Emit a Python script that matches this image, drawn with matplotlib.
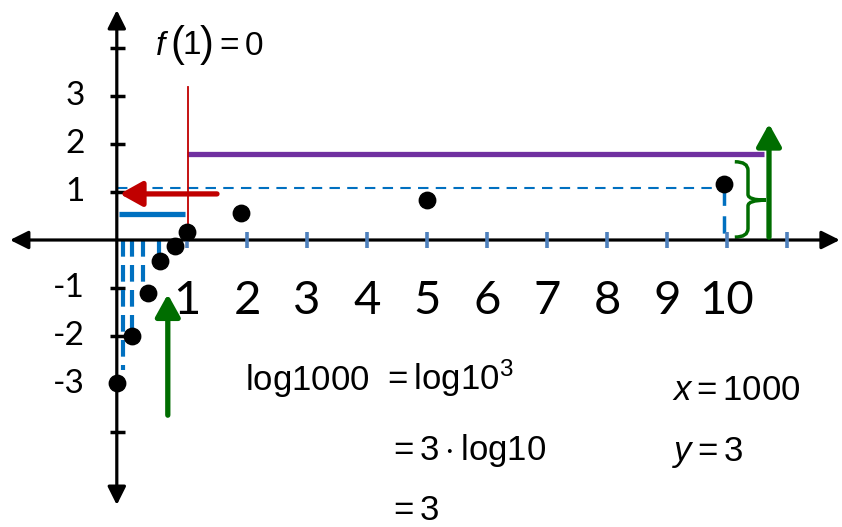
import matplotlib
matplotlib.use("Agg")
import matplotlib.pyplot as plt
from matplotlib.path import Path
from matplotlib.patches import PathPatch

plt.rcParams['mathtext.fontset'] = 'custom'
plt.rcParams['mathtext.rm'] = 'Liberation Sans'
plt.rcParams['mathtext.it'] = 'Liberation Sans:italic'

# points of the (schematic) log curve, in axis units
pts_x = [-0.17, 0.08, 0.35, 0.55, 0.80, 1.00, 1.90, 5.00, 9.95]
pts_y = [-2.98, -2.00, -1.10, -0.44, -0.13, 0.17, 0.56, 0.83, 1.17]

# dashed guides dropped to the x axis near the origin
guide_x = [-0.07, 0.08, 0.27, 0.53]
guide_bottom = [-2.70, -2.15, -0.98, -0.46]

x_ticks = list(range(1, 12))
x_labels = [str(i) for i in range(1, 11)]
y_ticks = [4, 3, 2, 1, -1, -2, -3, -4]
y_labels = ['3', '2', '1', '-1', '-2', '-3']
y_label_vals = [3, 2, 1, -1, -2, -3]

YAXIS_X = -0.17
BLUE = '#0070c0'
TICKBLUE = '#4f81bd'
PURPLE = '#7030a0'
RED = '#c00000'
GREEN = '#006d00'

fig = plt.figure(figsize=(8.42, 5.27), dpi=100)
ax = fig.add_axes([0, 0, 1, 1])
ax.set_xlim(-127 / 60, (842 - 127) / 60)
ax.set_ylim((240 - 527) / 48, 240 / 48)
ax.axis('off')

# axes with arrow heads
ax.annotate('', xy=(11.88, 0), xytext=(-1.95, 0),
            arrowprops=dict(arrowstyle='<|-|>,head_length=0.5,head_width=0.25',
                            lw=2.3, color='black', mutation_scale=22, shrinkA=0, shrinkB=0))
ax.annotate('', xy=(YAXIS_X, 4.79), xytext=(YAXIS_X, -5.52),
            arrowprops=dict(arrowstyle='<|-|>,head_length=0.5,head_width=0.25',
                            lw=2.3, color='black', mutation_scale=22, shrinkA=0, shrinkB=0))

for t in y_ticks:
    ax.plot([YAXIS_X - 0.12, YAXIS_X + 0.13], [t, t], color='black', lw=2.5, solid_capstyle='butt')
for t in x_ticks:
    ax.plot([t, t], [-0.17, 0.17], color=TICKBLUE, lw=2.6, solid_capstyle='butt', zorder=3)

for i, lab in enumerate(x_labels):
    ax.text(x_ticks[i], -1.28, lab, ha='center', va='center', fontsize=34, family='Lato')
for lab, v in zip(y_labels, y_label_vals):
    ax.text(-0.7, v, lab, ha='right', va='center', fontsize=24, family='Lato')

# dashed guides
for gx, gb in zip(guide_x, guide_bottom):
    ax.plot([gx, gx], [0, gb], color=BLUE, lw=3, dashes=(4, 2))
ax.plot([YAXIS_X, pts_x[-1]], [1.08, 1.08], color=BLUE, lw=1.5, dashes=(5, 3.5))
ax.plot([pts_x[-1], pts_x[-1]], [1.08, 0], color=BLUE, lw=2.5, dashes=(5, 3))

# coloured segments
ax.plot([-0.13, 0.97], [0.54, 0.54], color=BLUE, lw=3.8, solid_capstyle='butt')
ax.plot([1.0, 10.62], [1.79, 1.79], color=PURPLE, lw=3.8, solid_capstyle='butt')
ax.plot([1.01, 1.01], [0, 3.19], color=RED, lw=1.3)

# arrows
ax.annotate('', xy=(-0.12, 0.96), xytext=(1.5, 0.96),
            arrowprops=dict(arrowstyle='-|>,head_length=0.45,head_width=0.25',
                            lw=3.8, color=RED, mutation_scale=30, shrinkA=0, shrinkB=0))
ax.annotate('', xy=(0.68, -1.13), xytext=(0.68, -3.65),
            arrowprops=dict(arrowstyle='-|>,head_length=0.45,head_width=0.25',
                            lw=3.8, color=GREEN, mutation_scale=30, shrinkA=0, shrinkB=0))
ax.annotate('', xy=(10.7, 2.42), xytext=(10.7, 0.06),
            arrowprops=dict(arrowstyle='-|>,head_length=0.45,head_width=0.25',
                            lw=3.8, color=GREEN, mutation_scale=30, shrinkA=0, shrinkB=0))

# curly brace
verts = [(10.13, 1.63), (10.35, 1.63), (10.35, 1.45), (10.35, 0.95),
         (10.35, 0.83), (10.65, 0.83),
         (10.13, 0.06), (10.35, 0.06), (10.35, 0.24), (10.35, 0.71),
         (10.35, 0.83), (10.65, 0.83)]
codes = [Path.MOVETO, Path.CURVE3, Path.CURVE3, Path.LINETO, Path.CURVE3, Path.CURVE3,
         Path.MOVETO, Path.CURVE3, Path.CURVE3, Path.LINETO, Path.CURVE3, Path.CURVE3]
ax.add_patch(PathPatch(Path(verts, codes), fill=False, edgecolor=GREEN, lw=2.5))

ax.scatter(pts_x, pts_y, s=140, color='black', zorder=5)

# texts
ax.text(0.47, 4.06, r'$f$', ha='left', va='center', fontsize=24)
ax.text(0.72, 4.06, '(', ha='left', va='center', fontsize=30, family='Liberation Sans', fontweight='light')
ax.text(0.93, 4.06, '1', ha='left', va='center', fontsize=24, family='Liberation Sans')
ax.text(1.22, 4.06, ')', ha='left', va='center', fontsize=30, family='Liberation Sans')
ax.text(1.45, 4.06, r'$=0$', ha='left', va='center', fontsize=24)
ax.text(1.97, -2.92, r'$\mathrm{log1000}$', ha='left', va='center', fontsize=25)
ax.text(4.25, -2.88, r'$=\mathrm{log10}^3$', ha='left', va='center', fontsize=25)
ax.text(4.35, -4.38, r'$=3\cdot\mathrm{log10}$', ha='left', va='center', fontsize=25)
ax.text(4.35, -5.62, r'$=3$', ha='left', va='center', fontsize=25)
ax.text(9.08, -3.13, r'$x=1000$', ha='left', va='center', fontsize=25)
ax.text(9.08, -4.42, r'$y=3$', ha='left', va='center', fontsize=25)

fig.savefig('out.png', dpi=100)
